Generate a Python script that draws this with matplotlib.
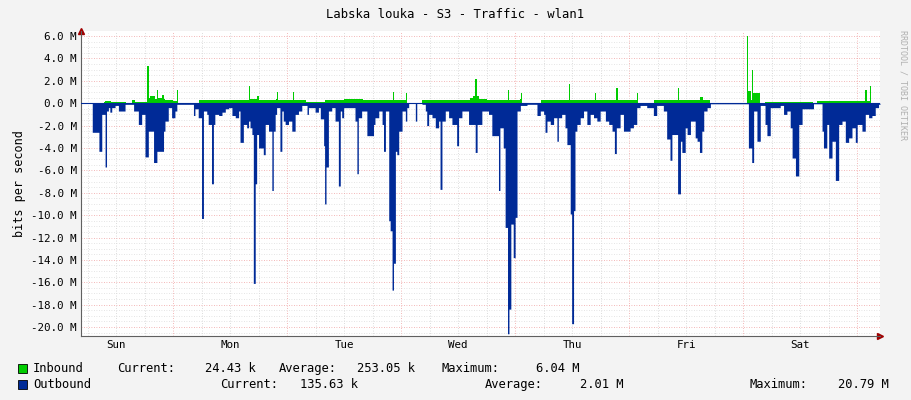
import matplotlib
matplotlib.use("Agg")
import matplotlib.pyplot as plt
import numpy as np

# hours since Sunday 00:00, values in Mbit/s
out_t = [4.6,6.9,7.0,8.3,8.4,9.0,9.6,9.7,10.0,10.4,10.7,11.1,11.8,12.5,13.2,13.9,15.3,15.7,16.4,16.7,17.4,18.1,18.5,18.8,19.5,19.9,20.2,20.6,21.3,22.0,22.3,23.0,23.7,24.4,24.8,27.2,28.3,28.6,29.3,30.0,30.4,31.1,31.4,32.1,32.5,32.8,33.6,34.3,35.0,35.7,36.4,37.1,37.8,38.1,38.5,38.8,39.5,39.9,40.2,40.6,40.9,41.3,41.6,42.0,42.7,43.0,43.4,44.1,44.8,45.1,45.5,45.8,46.5,46.9,47.2,47.6,48.3,49.0,49.7,50.4,51.1,52.2,52.5,53.2,53.9,54.6,55.0,55.7,55.9,56.2,56.7,57.4,58.1,58.8,59.2,59.5,59.9,61.6,62.3,62.7,63.0,63.7,64.8,65.8,66.2,66.5,67.3,68.0,68.3,68.7,69.4,69.7,70.1,70.4,70.8,71.1,71.5,72.2,72.9,73.2,73.6,74.6,75.0,75.3,76.4,77.1,77.4,77.8,78.5,79.2,79.9,80.2,80.6,81.3,82.0,82.7,83.7,84.1,84.8,86.2,86.9,87.6,88.0,89.0,90.4,91.1,
         91.8,92.5,92.8,93.5,93.9,94.2,94.4,94.7,95.1,95.6,96.0,96.4,97.1,98.5,99.9,100.6,101.3,102.0,102.3,102.7,103.4,104.1,104.8,105.1,105.8,106.5,106.9,107.6,107.9,108.3,108.6,109.0,109.7,110.4,111.1,111.8,112.5,113.2,113.9,115.0,115.7,116.4,116.9,117.3,118.1,118.8,119.5,120.2,120.9,121.6,122.3,123.7,124.4,125.1,125.8,127.2,127.9,128.6,129.0,129.7,130.2,130.8,131.1,131.8,132.2,132.9,133.6,133.9,134.3,134.8,135.3,135.7,136.4,137.1,144.8,145.1,145.8,146.2,146.9,147.6,148.6,149.0,149.7,151.8,152.5,153.2,153.9,154.3,155.0,155.7,156.4,158.8,160.2,160.6,160.9,161.6,162.0,162.7,163.4,164.1,164.8,165.5,166.2,166.9,167.6,168.0,168.7,169.0,169.7,170.4,171.1,171.8,172.5,172.8]
out_v = [0,0,-2.6,-2.6,-4.3,-1.0,-1.0,-5.7,-0.7,-0.4,-0.8,-0.4,-0.2,-0.7,-0.7,-0.1,-0.1,-0.7,-0.7,-1.9,-1.0,-4.8,-4.8,-2.5,-2.5,-5.3,-5.3,-4.3,-4.3,-2.5,-1.6,-0.4,-1.3,-0.7,-0.1,-0.1,-1.1,-0.5,-1.3,-10.3,-0.7,-1.0,-1.9,-7.2,-1.9,-1.0,-1.1,-0.8,-0.5,-0.4,-1.1,-1.3,-0.7,-3.5,-3.5,-1.9,-2.2,-1.6,-2.2,-2.8,-16.1,-7.2,-2.8,-4.0,-4.0,-4.6,-1.9,-2.5,-7.8,-2.5,-1.0,-0.4,-4.3,-0.7,-1.6,-1.9,-1.6,-2.5,-1.0,-0.7,-0.2,-1.0,-0.4,-0.4,-0.8,-0.4,-1.4,-3.8,-9.0,-5.7,-0.7,-0.4,-1.6,-7.4,-0.7,-1.3,-0.4,-0.4,-1.6,-6.3,-1.3,-0.7,-2.9,-2.9,-1.9,-1.3,-0.7,-1.9,-4.3,-0.7,-10.5,-11.4,-16.7,-14.3,-4.3,-4.6,-2.5,-0.7,-1.6,-0.4,0,0,-1.6,0,-0.1,-0.7,-2.0,-1.0,-1.3,-2.2,-1.6,-7.7,-1.6,-0.7,-1.3,-1.9,-3.8,-1.3,-0.7,-1.9,-1.9,-4.4,-1.9,-0.7,-1.0,-2.9,
         -2.9,-7.8,-2.2,-4.0,-11.1,-11.1,-20.6,-18.4,-10.8,-13.8,-10.2,-0.7,-0.2,-0.1,-0.1,-1.1,-0.7,-1.0,-2.6,-1.6,-1.9,-1.3,-3.4,-1.3,-1.0,-2.2,-3.7,-9.9,-19.7,-9.6,-2.5,-1.9,-1.3,-0.7,-1.9,-1.0,-1.3,-1.6,-0.7,-1.6,-1.9,-2.5,-4.5,-2.2,-1.0,-2.5,-2.5,-2.2,-1.9,-0.4,-0.2,-0.4,-0.4,-1.1,-0.2,-0.7,-3.2,-5.1,-2.8,-2.8,-8.1,-3.4,-4.4,-2.2,-2.8,-1.6,-1.6,-3.1,-3.4,-4.4,-2.5,-0.7,-0.4,-0.05,-0.05,-4.0,-5.3,-0.7,-3.4,-0.2,-1.9,-2.9,-0.4,-0.2,-1.0,-0.7,-2.2,-4.9,-6.5,-1.9,-0.5,-0.05,-0.05,-2.5,-4.0,-1.9,-4.9,-3.4,-6.9,-1.9,-1.6,-3.5,-3.1,-2.2,-3.5,-1.9,-1.9,-2.5,-1.0,-1.3,-1.1,-0.4,-0.1,-0.1]

in_t = [4.6,6.9,9.5,9.7,11,14,15.3,16,18.4,18.6,18.9,19.2,20.3,20.6,20.9,21.3,21.6,22,22.3,24.0,24.9,25.1,28.0,29.5,36,39.7,39.9,40.2,41.6,42,45.6,45.8,46.0,49.0,49.2,49.4,52,56,60,64,67,70.3,70.4,70.6,73.0,73.1,73.3,75,76.5,80,84,86.5,87.1,87.5,87.9,88.3,90,93,94.4,94.7,97.0,97.2,97.4,101.3,101.5,105,107.2,107.3,107.6,112.8,113.1,117.1,117.3,117.6,121.6,121.7,121.8,125.1,125.3,130.2,130.3,130.5,135,135.5,137.1,144.7,144.8,145.1,145.6,145.8,146.1,146.9,147.6,148.6,156,158.8,159.5,167.8,169.7,170.0,170.4,170.8,171.0,172.8]
in_v = [0,0.05,0.1,0.2,0.1,0.05,0.3,0.15,0.1,3.3,0.5,0.6,0.4,1.2,0.5,0.5,0.7,0.4,0.3,0.2,1.2,0.05,0.05,0.3,0.25,0.3,1.5,0.4,0.6,0.3,0.4,1.0,0.3,0.3,1.0,0.3,0.15,0.3,0.35,0.3,0.25,0.3,1.0,0.3,0.3,0.9,0.05,0.05,0.25,0.3,0.3,0.5,0.6,2.2,0.6,0.4,0.3,0.3,1.2,0.3,0.4,0.9,0.0,0.0,0.25,0.3,0.3,1.75,0.3,0.9,0.3,0.3,1.4,0.3,0.3,0.95,0.0,0.0,0.25,0.3,1.4,0.3,0.55,0.3,0.0,0.0,6.0,1.1,0.3,3.0,0.9,0.9,0.05,0.15,0.15,0.03,0.2,0.2,1.2,0.2,0.2,1.5,0.0,0.0]

days = ["Sun", "Mon", "Tue", "Wed", "Thu", "Fri", "Sat"]
yticks = [6, 4, 2, 0, -2, -4, -6, -8, -10, -12, -14, -16, -18, -20]

mono = "DejaVu Sans Mono"
fig = plt.figure(figsize=(9.11, 4.0), dpi=100, facecolor="#f3f3f3")
ax = fig.add_axes([81/911, 64/400, 799/911, 305/400])
ax.set_facecolor("white")
ax.set_xlim(4.63, 172.8)
ax.set_ylim(-20.8, 6.45)

ax.fill_between(in_t, 0, in_v, color="#00cc00", lw=0, zorder=3, step="post")
ax.fill_between(out_t, 0, out_v, color="#002a97", lw=0, zorder=3, step="post")
ax.axhline(0, color="#002a97", lw=0.8, zorder=4)

# grid
for h in np.arange(6, 173, 6):
    ax.axvline(h, color="#d0d0d0" if h % 24 else "#f0a0a0", lw=0.6, ls=(0, (1, 2)), zorder=1)
for v in np.arange(-20.5, 6.5, 0.5):
    ax.axhline(v, color="#f0a0a0" if v % 2 == 0 else "#dcdcdc", lw=0.6, ls=(0, (1, 2)), zorder=1)

ax.set_yticks(yticks)
ax.set_yticklabels([f"{v:.1f} M" for v in yticks], family=mono, fontsize=7.8)
ax.set_xticks([12 + 24*i for i in range(7)])
ax.set_xticklabels(days, family=mono, fontsize=7.8)
ax.tick_params(length=0, pad=3)
for s in ["top", "right"]:
    ax.spines[s].set_visible(False)
for s in ["left", "bottom"]:
    ax.spines[s].set_color("#606060")
    ax.spines[s].set_linewidth(0.8)
ax.plot(0, 1, "^", color="#a00000", ms=4, transform=ax.transAxes, clip_on=False)
ax.plot(1, 0, ">", color="#a00000", ms=4, transform=ax.transAxes, clip_on=False)

ax.set_ylabel("bits per second", family=mono, fontsize=8.5, labelpad=4)
fig.text(0.5, 1-14/400, "Labska louka - S3 - Traffic - wlan1", ha="center", va="center", family=mono, fontsize=8.8)
fig.text(903/911, 1-30/400, "RRDTOOL / TOBI OETIKER", rotation=-90, ha="center", va="top", family=mono, fontsize=6, color="#b0b0b0")

def t(x, y, s):
    fig.text(x/911, 1-(y+4)/400, s, family=mono, fontsize=8.7, va="baseline")

for y, c in [(368, "#00cc00"), (384, "#002a97")]:
    fig.patches.append(plt.Rectangle((18/911, 1-(y+5)/400), 9/911, 9/400, transform=fig.transFigure, facecolor=c, edgecolor="black", lw=0.6))
t(33, 368, "Inbound"); t(117, 368, "Current:"); t(205, 368, "24.43 k"); t(279, 368, "Average:")
t(357, 368, "253.05 k"); t(441, 368, "Maximum:"); t(536, 368, "6.04 M")
t(33, 384, "Outbound"); t(220, 384, "Current:"); t(300, 384, "135.63 k"); t(485, 384, "Average:")
t(580, 384, "2.01 M"); t(750, 384, "Maximum:"); t(838, 384, "20.79 M")

fig.savefig("out.png", dpi=100, facecolor=fig.get_facecolor())
